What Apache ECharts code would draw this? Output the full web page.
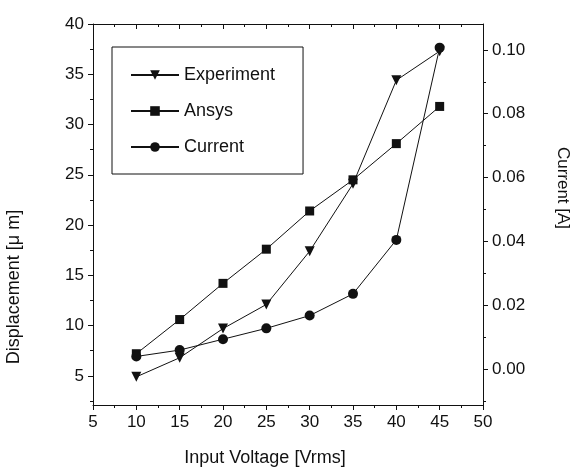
<!DOCTYPE html>
<html>
<head>
<meta charset="utf-8">
<script src="https://cdn.jsdelivr.net/npm/echarts@6/dist/echarts.min.js"></script>
<style>
  html, body { margin: 0; padding: 0; background: #fff; }
  #chart { width: 577px; height: 470px; }
</style>
</head>
<body>
<div id="chart"></div>
<script>
// values
const voltage = [10, 15, 20, 25, 30, 35, 40, 45];
const experiment = [4.9, 6.8, 9.7, 12.1, 17.4, 24.1, 34.4, 37.3];
const ansys = [7.2, 10.6, 14.2, 17.6, 21.4, 24.5, 28.1, 31.8];
const current = [0.004, 0.006, 0.0094, 0.0128, 0.0168, 0.0236, 0.0405, 0.1007];

const leftTicks = [5, 10, 15, 20, 25, 30, 35, 40];
const leftMinor = [2.5, 7.5, 12.5, 17.5, 22.5, 27.5, 32.5, 37.5];
const rightTicks = [0, 0.02, 0.04, 0.06, 0.08, 0.10];
const rightMinor = [-0.01, 0.01, 0.03, 0.05, 0.07, 0.09];

const font = '"Liberation Sans", Arial, sans-serif';
const ink = '#111';

let chart = echarts.init(document.getElementById('chart'));

const pairs = arr => voltage.map((v, i) => [v, arr[i]]);

let option = {
  backgroundColor: '#fff',
  animation: false,
  textStyle: { fontFamily: font, color: ink },
  grid: { left: 93, right: 94, top: 24, bottom: 65 },
  legend: {
    orient: 'vertical',
    left: 112,
    top: 47,
    padding: [19, 28, 18, 18],
    itemWidth: 48,
    itemHeight: 12,
    itemGap: 18,
    borderColor: ink,
    borderWidth: 1,
    textStyle: { fontFamily: font, fontSize: 18, color: ink },
    data: ['Experiment', 'Ansys', 'Current']
  },
  xAxis: [{
    type: 'value', position: 'bottom',
    min: 5, max: 50, interval: 5,
    splitLine: { show: false },
    axisLine: { onZero: false, lineStyle: { color: ink, width: 1 } },
    axisTick: { length: 5, lineStyle: { color: ink } },
    minorTick: { show: true, splitNumber: 2, length: 3, lineStyle: { color: ink } },
    axisLabel: { fontSize: 17, color: ink, margin: 9, fontFamily: font }
  }, {
    type: 'value', position: 'top',
    min: 5, max: 50, interval: 5,
    splitLine: { show: false },
    axisLine: { onZero: false, lineStyle: { color: ink, width: 1 } },
    axisTick: { inside: true, length: 5, lineStyle: { color: ink } },
    minorTick: { show: true, splitNumber: 2, length: 3, lineStyle: { color: ink } },
    axisLabel: { show: false }
  }],
  yAxis: [{
    type: 'value', position: 'left',
    min: 2.1, max: 40,
    splitLine: { show: false },
    axisLine: { show: true, onZero: false, lineStyle: { color: ink, width: 1 } },
    axisTick: { show: true, length: 5, customValues: leftTicks, lineStyle: { color: ink } },
    axisLabel: { fontSize: 17, color: ink, margin: 9, fontFamily: font, customValues: leftTicks }
  }, {
    type: 'value', position: 'right',
    min: -0.0112, max: 0.1081,
    splitLine: { show: false },
    axisLine: { show: true, onZero: false, lineStyle: { color: ink, width: 1 } },
    axisTick: { show: true, length: 5, customValues: rightTicks, lineStyle: { color: ink } },
    axisLabel: {
      fontSize: 17, color: ink, margin: 9, fontFamily: font, customValues: rightTicks,
      formatter: v => v.toFixed(2)
    }
  }, {
    type: 'value', position: 'left',
    min: 2.1, max: 40,
    splitLine: { show: false },
    axisLine: { show: false, onZero: false },
    axisTick: { show: true, length: 3, customValues: leftMinor, lineStyle: { color: ink } },
    axisLabel: { show: false }
  }, {
    type: 'value', position: 'right',
    min: -0.0112, max: 0.1081,
    splitLine: { show: false },
    axisLine: { show: false, onZero: false },
    axisTick: { show: true, length: 3, customValues: rightMinor, lineStyle: { color: ink } },
    axisLabel: { show: false }
  }],
  graphic: [{
    type: 'text',
    style: { text: 'Input Voltage [Vrms]', x: 265, y: 458, align: 'center', verticalAlign: 'middle',
      font: '18px ' + font, fill: ink }
  }, {
    type: 'text', x: 14, y: 287, rotation: Math.PI / 2,
    style: { text: 'Displacement [\u03bc m]', align: 'center', verticalAlign: 'middle',
      font: '18px ' + font, fill: ink }
  }, {
    type: 'text', x: 563, y: 188, rotation: -Math.PI / 2,
    style: { text: 'Current [A]', align: 'center', verticalAlign: 'middle',
      font: '17px ' + font, fill: ink }
  }],
  series: [{
    name: 'Experiment', type: 'line',
    xAxisIndex: 0, yAxisIndex: 0,
    data: pairs(experiment),
    symbol: 'triangle', symbolRotate: 180, symbolSize: 10,
    lineStyle: { color: ink, width: 1 },
    itemStyle: { color: ink }
  }, {
    name: 'Ansys', type: 'line',
    xAxisIndex: 0, yAxisIndex: 0,
    data: pairs(ansys),
    symbol: 'rect', symbolSize: 9,
    lineStyle: { color: ink, width: 1 },
    itemStyle: { color: ink }
  }, {
    name: 'Current', type: 'line',
    xAxisIndex: 0, yAxisIndex: 1,
    data: pairs(current),
    symbol: 'circle', symbolSize: 10,
    lineStyle: { color: ink, width: 1 },
    itemStyle: { color: ink }
  }]
};

chart.setOption(option);
</script>
</body>
</html>
